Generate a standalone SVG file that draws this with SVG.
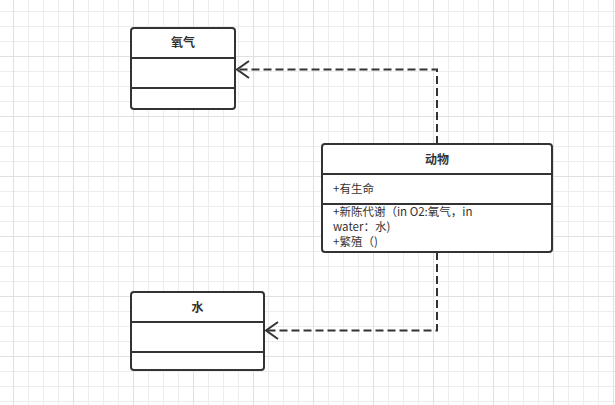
<svg xmlns="http://www.w3.org/2000/svg" width="615" height="405" viewBox="0 0 615 405">
  <defs>
    <pattern id="grid" patternUnits="userSpaceOnUse" x="13" y="-4" width="60" height="60">
      <path d="M15.5 0V60M30.5 0V60M45.5 0V60M0 15.5H60M0 30.5H60M0 45.5H60" stroke="#ededed" stroke-width="1" fill="none"/>
      <path d="M0.5 0V60M0 0.5H60" stroke="#e0e0e0" stroke-width="1" fill="none"/>
    </pattern>
    <marker id="open" markerUnits="userSpaceOnUse" markerWidth="16" markerHeight="20" refX="14" refY="10" orient="auto" viewBox="0 0 16 20">
      <path d="M2 1.5 L14 10 L2 18.5" fill="none" stroke="#333333" stroke-width="2"/>
    </marker>
  </defs>
  <style>
    .box { fill: #ffffff; stroke: #333333; stroke-width: 2; }
    .div { stroke: #333333; stroke-width: 2; fill: none; }
    .title { font-family: "Noto Sans CJK SC", "Liberation Sans", sans-serif; font-size: 12px; font-weight: bold; fill: #333333; text-anchor: middle; }
    .txt { font-family: "Noto Sans CJK SC", "Liberation Sans", sans-serif; font-size: 11.5px; fill: #333333; }
    .conn { fill: none; stroke: #333333; stroke-width: 2; stroke-dasharray: 8 4; }
  </style>
  <rect width="615" height="405" fill="#ffffff"/>
  <rect width="615" height="405" fill="url(#grid)"/>

  <g id="oxygen">
    <rect class="box" x="131" y="28" width="104" height="81" rx="3"/>
    <path class="div" d="M131 58H235M131 88H235"/>
    <text class="title" x="183" y="47">氧气</text>
  </g>

  <g id="animal">
    <rect class="box" x="322" y="144" width="230" height="108" rx="3"/>
    <path class="div" d="M322 174H552M322 204H552"/>
    <text class="title" x="437" y="164">动物</text>
    <text class="txt" x="333" y="193">+有生命</text>
    <text class="txt" x="333" y="216">+新陈代谢（in O2:氧气，in</text>
    <text class="txt" x="333" y="231">water：水)</text>
    <text class="txt" x="333" y="246">+繁殖（)</text>
  </g>

  <g id="water">
    <rect class="box" x="131" y="292" width="133" height="78" rx="3"/>
    <path class="div" d="M131 322H264M131 352H264"/>
    <text class="title" x="197.5" y="312">水</text>
  </g>

  <g id="connectors">
    <path class="conn" d="M437 144 V69.5 H237" marker-end="url(#open)"/>
    <path class="conn" d="M437 252 V330.5 H266" marker-end="url(#open)"/>
  </g>
</svg>
